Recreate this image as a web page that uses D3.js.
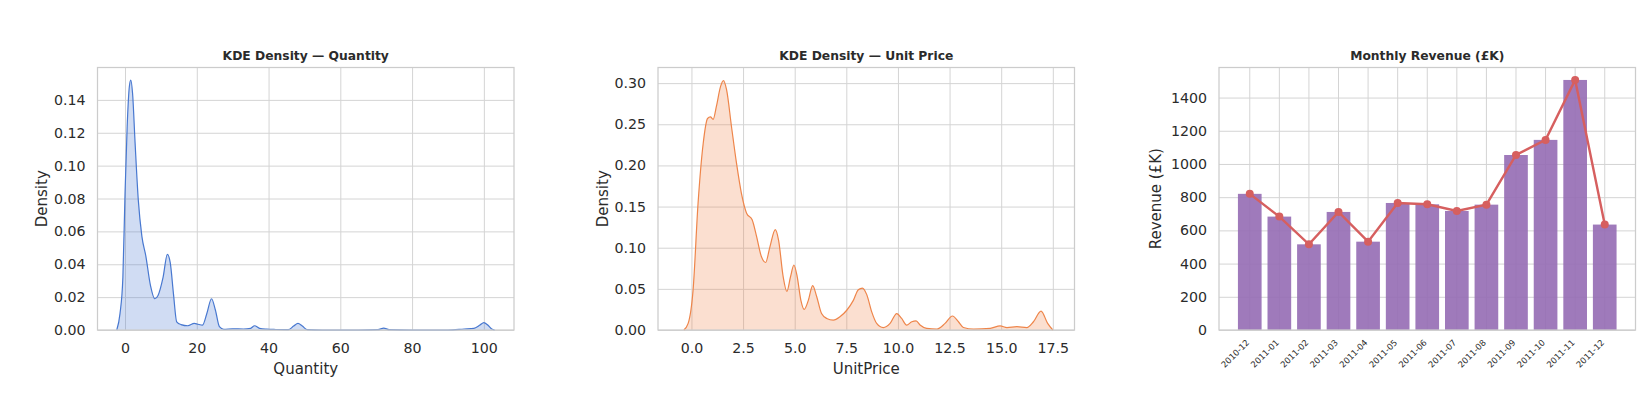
<!DOCTYPE html>
<html>
<head>
<meta charset="utf-8">
<script src="https://cdn.jsdelivr.net/npm/d3@7"></script>
<style>
  body { margin: 0; background: #fff; }
  svg { display: block; font-family: "DejaVu Sans", sans-serif; }
</style>
</head>
<body>
<div id="chart"></div>
<script>
// ---------------- data ----------------
const qtyX = [-2.3, -1.4, -0.6, 0, 0.6, 1.2, 1.6, 2.1, 2.8, 3.7, 4.7, 5.8, 7.1, 8.3, 9.2, 10.6, 11.8, 12.6, 13.5, 14.4, 15.6, 17.5, 19.3, 20.3, 21.6, 22.8, 24.1, 25.2, 26.3, 27.5, 30, 33, 35, 36.1, 37.5, 39.5, 42, 45.5, 47, 48.2, 49.4, 50.8, 55, 65, 70.5, 72.1, 73.6, 80, 90, 94.5, 97.2, 98.9, 100, 101.1, 102.2, 103];
const qtyDensity = [0, 0.010, 0.032, 0.083, 0.124, 0.148, 0.152, 0.144, 0.114, 0.079, 0.057, 0.045, 0.027, 0.019, 0.021, 0.032, 0.046, 0.041, 0.022, 0.005, 0.0033, 0.0026, 0.004, 0.0035, 0.003, 0.010, 0.019, 0.012, 0.002, 0.0004, 0.0007, 0.0006, 0.001, 0.0026, 0.001, 0.0005, 0.0003, 0.0002, 0.0024, 0.004, 0.0024, 0.0002, 0, 0, 0.0002, 0.0012, 0.0002, 0, 0, 0.0006, 0.001, 0.003, 0.0045, 0.003, 0.0006, 0];

const priceX = [-0.37, -0.16, 0.08, 0.32, 0.57, 0.78, 0.92, 1.05, 1.21, 1.41, 1.55, 1.70, 1.94, 2.18, 2.42, 2.67, 2.94, 3.15, 3.39, 3.59, 3.80, 4.06, 4.22, 4.44, 4.62, 4.80, 4.96, 5.12, 5.30, 5.46, 5.66, 5.87, 6.06, 6.30, 6.55, 6.87, 7.19, 7.52, 7.84, 8.08, 8.28, 8.49, 8.73, 8.97, 9.29, 9.62, 9.94, 10.18, 10.42, 10.67, 10.88, 11.07, 11.39, 11.88, 12.28, 12.64, 12.93, 13.17, 13.66, 14.47, 14.95, 15.28, 15.76, 16.24, 16.56, 16.93, 17.25, 17.5];
const priceDensity = [0, 0.008, 0.049, 0.154, 0.227, 0.257, 0.259, 0.256, 0.272, 0.296, 0.303, 0.292, 0.247, 0.203, 0.166, 0.142, 0.134, 0.114, 0.089, 0.082, 0.101, 0.122, 0.109, 0.065, 0.047, 0.065, 0.079, 0.065, 0.036, 0.025, 0.036, 0.054, 0.041, 0.020, 0.014, 0.012, 0.016, 0.024, 0.036, 0.049, 0.051, 0.043, 0.022, 0.008, 0.003, 0.008, 0.020, 0.014, 0.006, 0.010, 0.011, 0.006, 0.002, 0.001, 0.008, 0.017, 0.010, 0.003, 0.001, 0.002, 0.005, 0.003, 0.004, 0.003, 0.010, 0.023, 0.008, 0];

const months = ["2010-12", "2011-01", "2011-02", "2011-03", "2011-04", "2011-05", "2011-06", "2011-07", "2011-08", "2011-09", "2011-10", "2011-11", "2011-12"];
const revenueK = [820, 683, 516, 711, 532, 765, 757, 717, 755, 1054, 1145, 1506, 635];

const qtyTicksX = [0, 20, 40, 60, 80, 100];
const qtyTicksY = [0, 0.02, 0.04, 0.06, 0.08, 0.10, 0.12, 0.14];
const priceTicksX = [0, 2.5, 5, 7.5, 10, 12.5, 15, 17.5];
const priceTicksY = [0, 0.05, 0.10, 0.15, 0.20, 0.25, 0.30];
const revTicksY = [0, 200, 400, 600, 800, 1000, 1200, 1400];

// ---------------- layout ----------------
const W = 1646, H = 413;
const plotTop = 67.5, plotBottom = 330;
const panelW = 416.5;
const lefts = [97.5, 658, 1219];
const textCol = "#2b2b2b", gridCol = "#d4d4d4";

const svg = d3.select("#chart").append("svg")
  .attr("width", W).attr("height", H);
svg.append("rect").attr("width", W).attr("height", H).attr("fill", "#fff");

// grid + ticks for one panel
function frame(g, x, y, xTicks, yTicks, xFmt, yFmt) {
  const xa = g.append("g")
    .attr("transform", `translate(0,${plotBottom})`)
    .call(d3.axisBottom(x).tickValues(xTicks).tickFormat(xFmt).tickSize(-(plotBottom - plotTop)).tickPadding(13));
  const ya = g.append("g")
    .attr("transform", `translate(${x.range()[0]},0)`)
    .call(d3.axisLeft(y).tickValues(yTicks).tickFormat(yFmt).tickSize(-panelW).tickPadding(12));
  [xa, ya].forEach(a => {
    a.select(".domain").remove();
    a.selectAll("line").attr("stroke", gridCol).attr("stroke-width", 1);
    a.selectAll("text").attr("fill", textCol).style("font-size", "14.2px").style("font-family", "DejaVu Sans");
  });
  return xa;
}

function border(g, x0) {
  g.append("rect")
    .attr("x", x0).attr("y", plotTop)
    .attr("width", panelW).attr("height", plotBottom - plotTop)
    .attr("fill", "none").attr("stroke", "#cccccc").attr("stroke-width", 1.25);
}

function labels(g, x0, title, xl, yl, ylX) {
  g.append("text")
    .attr("x", x0 + panelW / 2).attr("y", 60)
    .attr("text-anchor", "middle")
    .style("font-size", "12.3px").style("font-weight", "bold")
    .attr("fill", textCol).text(title);
  if (xl) g.append("text")
    .attr("x", x0 + panelW / 2).attr("y", 374)
    .attr("text-anchor", "middle")
    .style("font-size", "15px").attr("fill", textCol).text(xl);
  g.append("text")
    .attr("transform", `translate(${ylX},${(plotTop + plotBottom) / 2}) rotate(-90)`)
    .attr("text-anchor", "middle").attr("dy", "0.35em")
    .style("font-size", "15px").attr("fill", textCol).text(yl);
}

// ---------------- KDE panels ----------------
function kdePanel(x0, xs, ys, xDom, yMax, xTicks, yTicks, xFmt, color, title, xl, ylX) {
  const g = svg.append("g");
  const x = d3.scaleLinear().domain(xDom).range([x0, x0 + panelW]);
  const y = d3.scaleLinear().domain([0, yMax]).range([plotBottom, plotTop]);
  frame(g, x, y, xTicks, yTicks, xFmt, d3.format(".2f"));

  const pts = xs.map((v, i) => [v, ys[i]]);
  const area = d3.area().curve(d3.curveMonotoneX)
    .x(d => x(d[0])).y0(y(0)).y1(d => y(d[1]));
  const line = d3.line().curve(d3.curveMonotoneX)
    .x(d => x(d[0])).y(d => y(d[1]));

  g.append("path").datum(pts).attr("d", area)
    .attr("fill", color).attr("fill-opacity", 0.26);
  g.append("path").datum(pts).attr("d", line)
    .attr("fill", "none").attr("stroke", color).attr("stroke-width", 1.2);

  border(g, x0);
  labels(g, x0, title, xl, "Density", ylX);
}

kdePanel(lefts[0], qtyX, qtyDensity, [-7.67, 108.4], 0.1597, qtyTicksX, qtyTicksY, d3.format("d"),
  "#4878d0", "KDE Density \u2014 Quantity", "Quantity", 41.7);
kdePanel(lefts[1], priceX, priceDensity, [-1.62, 18.55], 0.319, priceTicksX, priceTicksY, d3.format(".1f"),
  "#ee854a", "KDE Density \u2014 Unit Price", "UnitPrice", 602.3);

// ---------------- Monthly revenue ----------------
{
  const x0 = lefts[2];
  const g = svg.append("g");
  const x = d3.scaleBand().domain(months).range([x0, x0 + panelW])
    .paddingInner(0.2).paddingOuter(0.64);
  const y = d3.scaleLinear().domain([0, 1581]).range([plotBottom, plotTop]);
  const xa = frame(g, x, y, months, revTicksY, d => d, d3.format("d"));

  xa.selectAll("text")
    .attr("y", 0).attr("dy", "0.35em")
    .attr("text-anchor", "end")
    .attr("transform", "translate(-2,11) rotate(-45)")
    .style("font-size", "8.5px");

  g.selectAll("rect.bar").data(months).join("rect")
    .attr("class", "bar")
    .attr("x", d => x(d)).attr("width", x.bandwidth())
    .attr("y", (d, i) => y(revenueK[i]))
    .attr("height", (d, i) => plotBottom - y(revenueK[i]))
    .attr("fill", "#956cb4").attr("fill-opacity", 0.9);

  const cx = d => x(d) + x.bandwidth() / 2;
  g.append("path").datum(months)
    .attr("d", d3.line().x(cx).y((d, i) => y(revenueK[i])))
    .attr("fill", "none").attr("stroke", "#d65f5f").attr("stroke-width", 2.4);
  g.selectAll("circle.pt").data(months).join("circle")
    .attr("class", "pt")
    .attr("cx", cx).attr("cy", (d, i) => y(revenueK[i]))
    .attr("r", 4).attr("fill", "#d65f5f");

  border(g, x0);
  labels(g, x0, "Monthly Revenue (\u00a3K)", null, "Revenue (\u00a3K)", 1156);
}
</script>
</body>
</html>
